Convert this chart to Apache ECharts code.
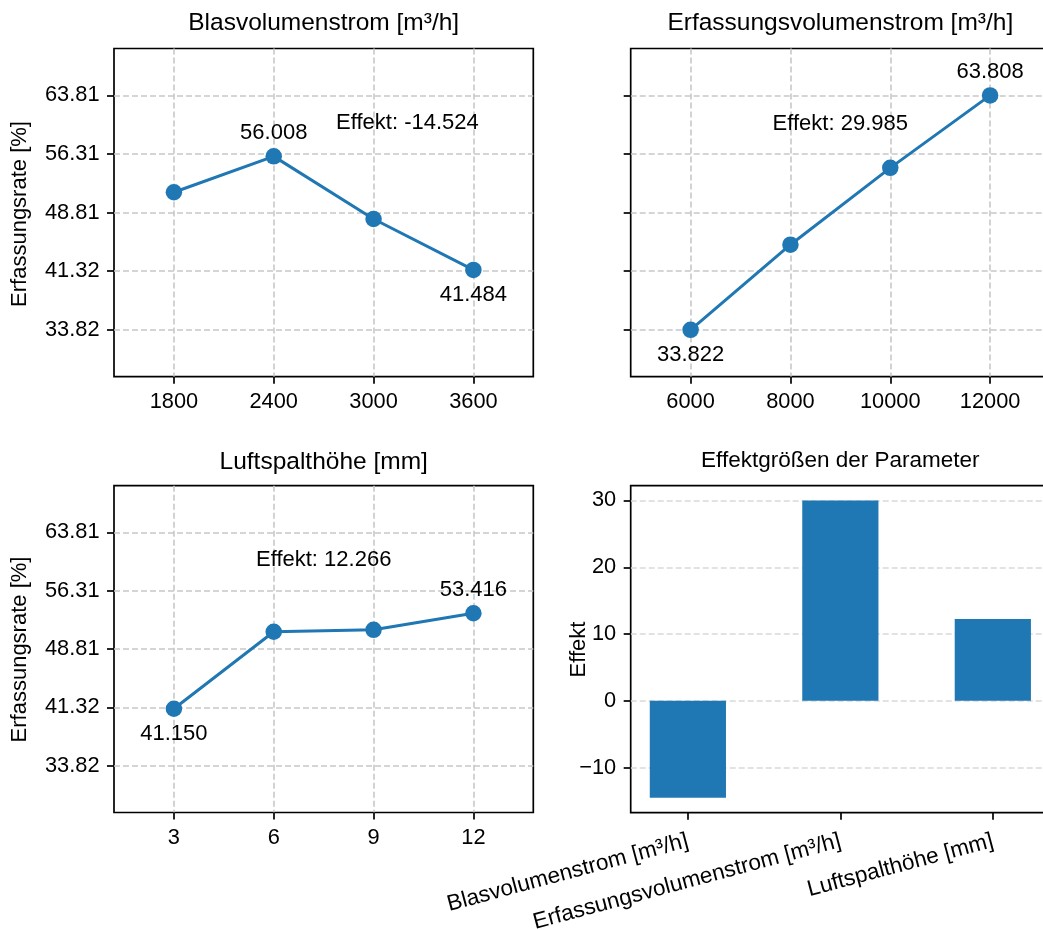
<!DOCTYPE html>
<html>
<head>
<meta charset="utf-8">
<script src="https://cdn.jsdelivr.net/npm/echarts@6/dist/echarts.min.js"></script>
<style>
  html, body { margin: 0; padding: 0; background: #fff; }
  #chart { width: 1043px; height: 930px; }
</style>
</head>
<body>
<div id="chart"></div>
<script>
// ---------- data ----------
const blasX = [1800, 2400, 3000, 3600];
const blasY = [51.42, 56.008, 48.0, 41.484];
const erfX = [6000, 8000, 10000, 12000];
const erfY = [33.822, 44.71, 54.54, 63.808];
const luftX = [3, 6, 9, 12];
const luftY = [41.150, 51.04, 51.29, 53.416];
const effectCategories = ['Blasvolumenstrom [m³/h]', 'Erfassungsvolumenstrom [m³/h]', 'Luftspalthöhe [mm]'];
const effectValues = [-14.524, 29.985, 12.266];
const rateTicks = [33.822, 41.3185, 48.815, 56.3115, 63.808];
const rateTickLabels = ['33.82', '41.32', '48.81', '56.31', '63.81'];
const effectTicks = [-10, 0, 10, 20, 30];
const effectTickLabels = ['−10', '0', '10', '20', '30'];
const panelTitles = ['Blasvolumenstrom [m³/h]', 'Erfassungsvolumenstrom [m³/h]', 'Luftspalthöhe [mm]', 'Effektgrößen der Parameter'];
const rateAxisName = 'Erfassungsrate [%]';
const effectAxisName = 'Effekt';
const effectPrefix = 'Effekt: ';

// ---------- style ----------
const FONT = '"Liberation Sans", Arial, Helvetica, sans-serif';
const BLUE = '#1f77b4';
const TICK_FS = 21.8;
const TEXT_FS = 22;

function padRange(vals, frac) {
  const mn = Math.min(...vals), mx = Math.max(...vals), r = mx - mn;
  return [mn - frac * r, mx + frac * r];
}
const rateRange = padRange(rateTicks, 0.2);
const blasRange = padRange(blasX, 0.2);
const erfRange = padRange(erfX, 0.2);
const luftRange = padRange(luftX, 0.2);
const effRange = padRange(effectValues, 0.05);

function nearestLabel(v, ticks, labels) {
  let best = 0;
  for (let i = 1; i < ticks.length; i++) if (Math.abs(ticks[i] - v) < Math.abs(ticks[best] - v)) best = i;
  return labels[best];
}

const tickStyle = { show: true, inside: false, length: 7, lineStyle: { color: '#000', width: 1.7 } };
const gridLineStyle = { color: '#c8c8c8', width: 1.6, type: [6, 3] };

function xValAxis(gi, range, ticks) {
  return {
    type: 'value', gridIndex: gi, min: range[0], max: range[1],
    axisLine: { show: false, onZero: false },
    axisTick: Object.assign({ customValues: ticks }, tickStyle),
    axisLabel: { show: true, customValues: ticks, margin: 14, color: '#000', fontSize: TICK_FS, fontFamily: FONT,
                 formatter: v => String(v) },
    splitLine: { show: true, lineStyle: gridLineStyle }
  };
}
function yRateAxis(gi, showLabels) {
  return {
    type: 'value', gridIndex: gi, min: rateRange[0], max: rateRange[1],
    axisLine: { show: false, onZero: false },
    axisTick: Object.assign({ customValues: rateTicks }, tickStyle),
    axisLabel: { show: showLabels, customValues: rateTicks, margin: 14.5, color: '#000', fontSize: TICK_FS, fontFamily: FONT,
                 formatter: v => nearestLabel(v, rateTicks, rateTickLabels) },
    splitLine: { show: true, lineStyle: gridLineStyle }
  };
}

function lineData(xs, ys) {
  const iMax = ys.indexOf(Math.max(...ys));
  const iMin = ys.indexOf(Math.min(...ys));
  return xs.map((x, i) => {
    const item = { value: [x, ys[i]] };
    if (i === iMax) item.label = { show: true, position: 'top', distance: 4.25 };
    if (i === iMin) item.label = { show: true, position: 'bottom', distance: 6.25 };
    return item;
  });
}
function lineSeries(idx, xs, ys) {
  return {
    type: 'line', xAxisIndex: idx, yAxisIndex: idx,
    data: lineData(xs, ys),
    symbol: 'circle', symbolSize: 16.5,
    lineStyle: { color: BLUE, width: 3 },
    itemStyle: { color: BLUE, borderWidth: 0 },
    label: { show: false, color: '#000', fontSize: TEXT_FS, fontFamily: FONT,
             formatter: p => p.value[1].toFixed(3) },
    emphasis: { disabled: true },
    z: 5
  };
}

const gridBox = { show: true, borderColor: '#000', borderWidth: 1.7, backgroundColor: 'transparent', containLabel: false, outerBoundsMode: 'none' };
const grids = [
  Object.assign({ left: 114, top: 48.5, width: 419.3, height: 328.2 }, gridBox),
  Object.assign({ left: 630.7, top: 48.5, width: 419.3, height: 328.2 }, gridBox),
  Object.assign({ left: 114, top: 485.7, width: 419.3, height: 326.8 }, gridBox),
  Object.assign({ left: 630.7, top: 485.7, width: 419.3, height: 327 }, gridBox)
];

const barRange = [-0.375, effectValues.length - 1 + 0.375];

function txt(text, x, y, size, rot) {
  return {
    type: 'text', x: x, y: y, rotation: rot || 0, silent: true, z: 100,
    style: { text: text, fill: '#000', font: size + 'px ' + FONT,
             align: 'center', verticalAlign: 'middle', textAlign: 'center', textVerticalAlign: 'middle' }
  };
}

const option = {
  backgroundColor: '#ffffff',
  animation: false,
  textStyle: { fontFamily: FONT },
  grid: grids,
  xAxis: [
    xValAxis(0, blasRange, blasX),
    xValAxis(1, erfRange, erfX),
    xValAxis(2, luftRange, luftX),
    {
      type: 'value', gridIndex: 3, min: barRange[0], max: barRange[1],
      axisLine: { show: false, onZero: false },
      axisTick: Object.assign({ customValues: effectCategories.map((c, i) => i) }, tickStyle),
      axisLabel: { show: true, customValues: effectCategories.map((c, i) => i), rotate: 15, margin: 28,
                   color: '#000', fontSize: 22.5, fontFamily: FONT,
                   formatter: v => effectCategories[Math.round(v)] },
      splitLine: { show: false }
    }
  ],
  yAxis: [
    yRateAxis(0, true),
    yRateAxis(1, false),
    yRateAxis(2, true),
    {
      type: 'value', gridIndex: 3, min: effRange[0], max: effRange[1],
      axisLine: { show: false, onZero: false },
      axisTick: Object.assign({ customValues: effectTicks }, tickStyle),
      axisLabel: { show: true, customValues: effectTicks, margin: 14.5, color: '#000', fontSize: TICK_FS, fontFamily: FONT,
                   formatter: v => nearestLabel(v, effectTicks, effectTickLabels) },
      splitLine: { show: true, lineStyle: { color: '#d9d9d9', width: 1.6, type: [6, 3] } }
    }
  ],
  series: [
    lineSeries(0, blasX, blasY),
    lineSeries(1, erfX, erfY),
    lineSeries(2, luftX, luftY),
    {
      type: 'bar', xAxisIndex: 3, yAxisIndex: 3,
      data: effectValues.map((v, i) => [i, v]),
      barWidth: 76.2,
      itemStyle: { color: BLUE },
      emphasis: { disabled: true },
      z: 5
    }
  ],
  graphic: [
    txt(panelTitles[0], 323.7, 23.5, 24.5),
    txt(panelTitles[1], 840.3, 23.5, 24.5),
    txt(panelTitles[2], 323.7, 462, 24.5),
    txt(panelTitles[3], 840.3, 460.5, 22.5),
    txt(rateAxisName, 20, 214, TEXT_FS, Math.PI / 2),
    txt(rateAxisName, 20, 649.5, TEXT_FS, Math.PI / 2),
    txt(effectAxisName, 579, 649.5, TEXT_FS, Math.PI / 2),
    txt(effectPrefix + effectValues[0].toFixed(3), 407.4, 123, TEXT_FS),
    txt(effectPrefix + effectValues[1].toFixed(3), 840.3, 124.2, TEXT_FS),
    txt(effectPrefix + effectValues[2].toFixed(3), 323.7, 559.7, TEXT_FS)
  ]
};

const chart = echarts.init(document.getElementById('chart'), null, { renderer: 'canvas' });
chart.setOption(option);
</script>
</body>
</html>
